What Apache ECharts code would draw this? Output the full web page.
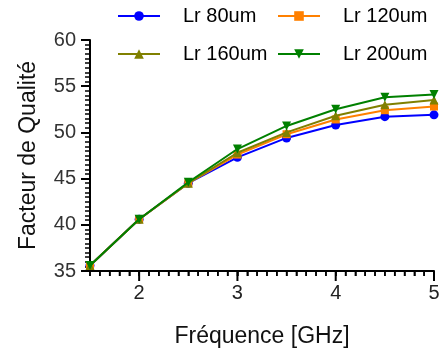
<!DOCTYPE html>
<html>
<head>
<meta charset="utf-8">
<script src="https://cdn.jsdelivr.net/npm/echarts@6/dist/echarts.min.js"></script>
<style>html,body{margin:0;padding:0;background:#fff;}#c{width:443px;height:353px;}</style>
</head>
<body>
<div id="c"></div>
<script>
var freq = [1.5, 2, 2.5, 3, 3.5, 4, 4.5, 5];
var lr80  = [35.6, 40.6, 44.5, 47.3, 49.4, 50.8, 51.7, 51.9];
var lr120 = [35.6, 40.6, 44.5, 47.6, 49.8, 51.4, 52.4, 52.8];
var lr160 = [35.6, 40.6, 44.5, 47.8, 50.0, 51.8, 53.0, 53.5];
var lr200 = [35.6, 40.6, 44.6, 48.2, 50.7, 52.5, 53.8, 54.1];
var xLabels = [2, 3, 4, 5];
var names = ['Lr 80um', 'Lr 120um', 'Lr 160um', 'Lr 200um'];
var colors = ['#0000ff', '#ff8000', '#808000', '#008000'];
var symbols = ['circle', 'rect', 'triangle', 'triangle'];
var rotates = [0, 0, 0, 180];
var sizes = [9, 8, 9, 9];
var values = [lr80, lr120, lr160, lr200];

function pairs(v){ return freq.map(function(f,i){ return [f, v[i]]; }); }

var font = 'Liberation Sans, Arial, sans-serif';
var legendPos = [[117, 6], [277, 6], [117, 44], [277, 44]];
var X_MIN = 1.5, X_MAX = 5, X_MINOR_STEP = 0.1;
var Y_MIN = 35;

// decorative tick positions for the x axis (axis furniture, not data)
var minorTickPos = [];
for (var k = 0; X_MIN + k * X_MINOR_STEP <= X_MAX + 1e-9; k++) {
  minorTickPos.push(Math.round((X_MIN + k * X_MINOR_STEP) * 10) / 10);
}

function tickSeries(positions, len, width){
  return {
    type: 'custom', clip: false, silent: true, z: 10,
    data: positions.map(function(v){ return [v, Y_MIN]; }),
    renderItem: function(params, api){
      var p = api.coord([api.value(0), api.value(1)]);
      return {type: 'line', shape: {x1: p[0], y1: p[1], x2: p[0], y2: p[1] + len},
              style: {stroke: '#000', lineWidth: width}};
    }
  };
}

var allSeries = names.map(function(n, i){
  return {
    name: n, type: 'line', data: pairs(values[i]),
    symbol: symbols[i], symbolSize: sizes[i], symbolRotate: rotates[i],
    lineStyle: {color: colors[i], width: 2},
    itemStyle: {color: colors[i]},
    z: 2 + i
  };
});
allSeries.push(tickSeries(minorTickPos, 5, 1.5));
allSeries.push(tickSeries(xLabels, 10, 2));

var chart = echarts.init(document.getElementById('c'), null, {renderer: 'canvas'});
chart.setOption({
  animation: false,
  backgroundColor: '#fff',
  grid: {left: 90, right: 9, top: 40, bottom: 81, containLabel: false},
  legend: names.map(function(n, i){
    return {
      data: [n], left: legendPos[i][0], top: legendPos[i][1],
      itemWidth: 42, itemHeight: 12, padding: 0,
      textStyle: {fontFamily: font, fontSize: 20, color: '#000', padding: [0,0,0,18], lineHeight: 20}
    };
  }),
  xAxis: {
    type: 'value', min: X_MIN, max: X_MAX, interval: 0.5,
    axisLine: {show: true, lineStyle: {color: '#000', width: 2}},
    axisTick: {show: true, length: 5, lineStyle: {color: '#000', width: 1.5}},
    minorTick: {show: true, splitNumber: 5, length: 5, lineStyle: {color: '#000', width: 1.5}},
    axisLabel: {show: true, margin: 12, fontFamily: font, fontSize: 20, color: '#222',
      formatter: function(v){ return xLabels.indexOf(Math.round(v * 10) / 10) >= 0 ? String(v) : ''; }},
    splitLine: {show: false},
    name: 'Fréquence [GHz]', nameLocation: 'middle', nameGap: 54,
    nameTextStyle: {fontFamily: font, fontSize: 23, color: '#111'}
  },
  yAxis: {
    type: 'value', min: Y_MIN, max: 60, interval: 5,
    axisLine: {show: true, lineStyle: {color: '#000', width: 2}},
    axisTick: {show: true, length: 9, lineStyle: {color: '#000', width: 2}},
    minorTick: {show: true, splitNumber: 10, length: 5, lineStyle: {color: '#000', width: 1.5}},
    axisLabel: {margin: 14, fontFamily: font, fontSize: 20, color: '#333'},
    splitLine: {show: false},
    name: 'Facteur de Qualité', nameLocation: 'middle', nameGap: 50,
    nameTextStyle: {fontFamily: font, fontSize: 23, color: '#111'}
  },
  series: allSeries
});
</script>
</body>
</html>
